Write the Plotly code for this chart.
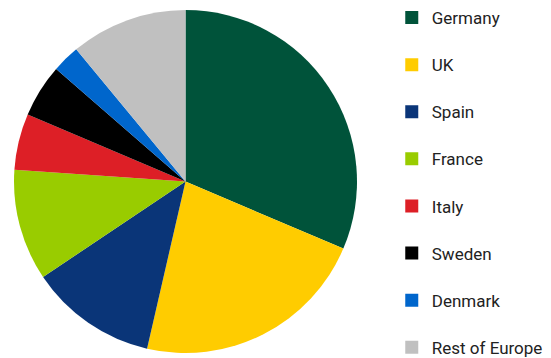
import plotly.graph_objects as go

# Share of total by market
countries = ["Germany", "UK", "Spain", "France", "Italy", "Sweden", "Denmark", "Rest of Europe"]
shares = [31.4, 22.2, 12.0, 10.5, 5.3, 5.0, 2.6, 11.0]
colors = ["#00533A", "#FFCC00", "#0A3578", "#99CC00", "#DD1F26", "#000000", "#0066CC", "#C0C0C0"]

W, H = 551, 358
cx, cy, r = 185.5, 181.5, 171.5

fig = go.Figure()

fig.add_trace(go.Pie(
    labels=countries,
    values=shares,
    sort=False,
    direction="clockwise",
    rotation=0,
    textinfo="none",
    hoverinfo="label+percent",
    marker=dict(colors=colors, line=dict(width=0)),
    domain=dict(x=[(cx - r) / W, (cx + r) / W], y=[1 - (cy + r) / H, 1 - (cy - r) / H]),
    showlegend=False,
))

# Legend entries, one group each so the rows can be spread out
for name, col in zip(countries, colors):
    fig.add_trace(go.Scatter(
        x=[None], y=[None], mode="markers", name=name,
        legendgroup=name,
        marker=dict(symbol="square", size=13, color=col),
    ))

fig.update_layout(
    width=W, height=H,
    margin=dict(l=0, r=0, t=0, b=0),
    paper_bgcolor="white", plot_bgcolor="white",
    xaxis=dict(visible=False), yaxis=dict(visible=False),
    font=dict(family="Roboto, sans-serif", size=17, color="#222222"),
    legend=dict(
        x=0.711, y=1.0, xanchor="left", yanchor="top",
        tracegroupgap=22,
        itemsizing="trace",
        maxheight=420,
        bgcolor="rgba(0,0,0,0)",
    ),
)

fig.write_html("out.html")
